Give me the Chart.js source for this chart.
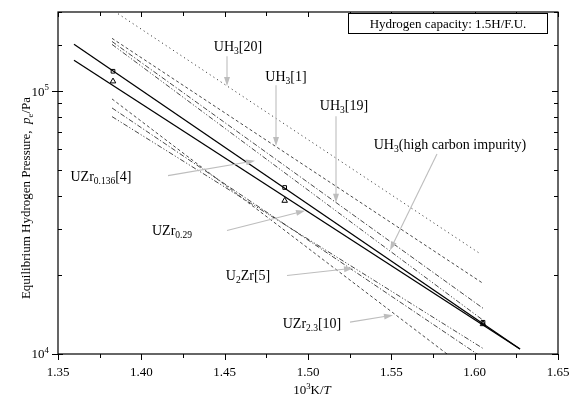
<!DOCTYPE html>
<html><head><meta charset="utf-8">
<script src="https://cdn.jsdelivr.net/npm/chart.js@4"></script>
<style>html,body{margin:0;padding:0;background:#fff}</style>
</head><body>
<canvas id="c" width="571" height="400"></canvas>
<script>
// ---- data (x = 10^3 K / T, y = pressure in Pa) ----
const solidA_x = [1.3596, 1.6272];
const solidA_p = [1.507e5, 1.045e4];
const solidB_x = [1.3596, 1.6272];
const solidB_p = [1.31e5, 1.045e4];
const squares_x = [1.383, 1.486, 1.605];
const squares_p = [1.19e5, 4.30e4, 1.32e4];
const triangles_x = [1.383, 1.486, 1.605];
const triangles_p = [1.09e5, 3.83e4, 1.30e4];

const uh3_20_x = [1.386, 1.6032];
const uh3_20_p = [1.97e5, 2.41e4];
const uh3_1_x = [1.3824, 1.605];
const uh3_1_p = [1.588e5, 1.857e4];
const uh3_19_x = [1.3824, 1.605];
const uh3_19_p = [1.545e5, 1.493e4];
const uh3_hc_x = [1.3824, 1.605];
const uh3_hc_p = [1.506e5, 1.345e4];

const uzr23_x = [1.3824, 1.605];
const uzr23_p = [9.34e4, 7.87e3];
const u2zr_x = [1.3824, 1.605];
const u2zr_p = [8.63e4, 9.66e3];
const uzr0136_x = [1.3824, 1.605];
const uzr0136_p = [8.0e4, 1.05e4];

const xTicks = [1.35, 1.40, 1.45, 1.50, 1.55, 1.60, 1.65];
const yTickLabels = [[1e4, '4'], [1e5, '5']];

// annotations: label parts, label centre, arrow start, arrow end (data units)
const annotations = [
  {parts:[['UH'],['3','sub'],['[20]']], at:[1.458,1.468e5], from:[1.4514,1.357e5], to:[1.4514,1.045e5]},
  {parts:[['UH'],['3','sub'],['[1]']], at:[1.4868,1.129e5], from:[1.4808,1.054e5], to:[1.4808,6.19e4]},
  {parts:[['UH'],['3','sub'],['[19]']], at:[1.5216,8.77e4], from:[1.5168,8.03e4], to:[1.5168,3.765e4]},
  {parts:[['UH'],['3','sub'],['(high carbon impurity)']], at:[1.5852,6.24e4], from:[1.5774,5.77e4], to:[1.5492,2.48e4]},
  {parts:[['UZr'],['0.136','sub'],['[4]']], at:[1.3758,4.72e4], from:[1.416,4.77e4], to:[1.4682,5.43e4]},
  {parts:[['UZr'],['0.29','sub']], at:[1.4184,2.93e4], from:[1.4514,2.95e4], to:[1.4982,3.51e4]},
  {parts:[['U'],['2','sub'],['Zr[5]']], at:[1.464,1.975e4], from:[1.4874,1.99e4], to:[1.527,2.12e4]},
  {parts:[['UZr'],['2.3','sub'],['[10]']], at:[1.5024,1.299e4], from:[1.5252,1.322e4], to:[1.551,1.405e4]}
];

const pts = (xs, ps) => xs.map((x, i) => ({x, y: ps[i]}));
const lineDs = (label, xs, ps, dash, w, col) => ({
  label, data: pts(xs, ps), showLine: true, borderColor: col || '#333',
  borderWidth: w || 0.9, borderDash: dash, pointRadius: 0, fill: false
});

const SERIF = '"Liberation Serif", "DejaVu Serif", serif';

function richWidth(ctx, parts, size) {
  let w = 0;
  for (const p of parts) {
    const s = p[1] === 'sub' || p[1] === 'sup' ? size * 0.68 : size;
    ctx.font = (p[1] === 'it' ? 'italic ' : '') + s + 'px ' + SERIF;
    w += ctx.measureText(p[0]).width;
  }
  return w;
}
function drawRich(ctx, parts, x, y, size, align, color) {
  const w = richWidth(ctx, parts, size);
  let cx = align === 'center' ? x - w / 2 : (align === 'right' ? x - w : x);
  ctx.fillStyle = color || '#000';
  ctx.textBaseline = 'middle';
  ctx.textAlign = 'left';
  for (const p of parts) {
    const small = p[1] === 'sub' || p[1] === 'sup';
    const s = small ? size * 0.68 : size;
    ctx.font = (p[1] === 'it' ? 'italic ' : '') + s + 'px ' + SERIF;
    const dy = p[1] === 'sub' ? size * 0.3 : (p[1] === 'sup' ? -size * 0.35 : 0);
    ctx.fillText(p[0], cx, y + dy);
    cx += ctx.measureText(p[0]).width;
  }
}

const framePlugin = {
  id: 'frame',
  afterDatasetsDraw(chart) {
    const {ctx, chartArea: a, scales: {x, y}} = chart;
    ctx.save();
    // annotations (grey arrows + labels)
    for (const an of annotations) {
      const x1 = x.getPixelForValue(an.from[0]), y1 = y.getPixelForValue(an.from[1]);
      const x2 = x.getPixelForValue(an.to[0]), y2 = y.getPixelForValue(an.to[1]);
      const ang = Math.atan2(y2 - y1, x2 - x1);
      const hl = 9, hw = 3;
      ctx.strokeStyle = '#bdbdbd'; ctx.fillStyle = '#bdbdbd'; ctx.lineWidth = 1.1;
      ctx.beginPath();
      ctx.moveTo(x1, y1);
      ctx.lineTo(x2 - Math.cos(ang) * hl * 0.8, y2 - Math.sin(ang) * hl * 0.8);
      ctx.stroke();
      ctx.beginPath();
      ctx.moveTo(x2, y2);
      ctx.lineTo(x2 - Math.cos(ang) * hl - Math.sin(ang) * hw, y2 - Math.sin(ang) * hl + Math.cos(ang) * hw);
      ctx.lineTo(x2 - Math.cos(ang) * hl + Math.sin(ang) * hw, y2 - Math.sin(ang) * hl - Math.cos(ang) * hw);
      ctx.closePath(); ctx.fill();
      drawRich(ctx, an.parts, x.getPixelForValue(an.at[0]), y.getPixelForValue(an.at[1]), 14, 'center', '#000');
    }
    // frame
    ctx.strokeStyle = '#000'; ctx.lineWidth = 1.2;
    ctx.strokeRect(a.left, a.top, a.right - a.left, a.bottom - a.top);
    // x ticks
    ctx.lineWidth = 1;
    for (let i = 0; i <= 12; i++) {
      const v = 1.35 + i * 0.025;
      const px = Math.round(x.getPixelForValue(v)) + 0.5;
      const major = i % 2 === 0;
      ctx.beginPath();
      ctx.moveTo(px, a.bottom); ctx.lineTo(px, a.bottom + (major ? 6 : 4));
      ctx.moveTo(px, a.top); ctx.lineTo(px, a.top + (major ? 5 : 4));
      ctx.stroke();
    }
    ctx.fillStyle = '#000'; ctx.font = '13px ' + SERIF; ctx.textAlign = 'center'; ctx.textBaseline = 'middle';
    for (const v of xTicks) ctx.fillText(v.toFixed(2), x.getPixelForValue(v), a.bottom + 19);
    // y ticks
    for (const t of y.ticks) {
      const v = t.value;
      const py = Math.round(y.getPixelForValue(v)) + 0.5;
      const m = Math.log10(v);
      const major = Math.abs(m - Math.round(m)) < 1e-9;
      ctx.beginPath();
      if (major) { ctx.moveTo(a.left - 6, py); ctx.lineTo(a.left + 5, py); ctx.moveTo(a.right - 6, py); ctx.lineTo(a.right, py); }
      else { ctx.moveTo(a.left, py); ctx.lineTo(a.left + 4, py); ctx.moveTo(a.right - 4, py); ctx.lineTo(a.right, py); }
      ctx.stroke();
    }
    for (const [v, e] of yTickLabels) {
      drawRich(ctx, [['10'], [e, 'sup']], a.left - 9, y.getPixelForValue(v) + 1, 13, 'right', '#000');
    }
    // axis titles
    drawRich(ctx, [['10'], ['3', 'sup'], ['K/'], ['T', 'it']], (a.left + a.right) / 2 + 4, a.bottom + 37, 13, 'center', '#000');
    ctx.save();
    ctx.translate(27, 198);
    ctx.rotate(-Math.PI / 2);
    drawRich(ctx, [['Equilibrium Hydrogen Pressure,  '], ['p', 'it'], ['e', 'sub'], ['/Pa']], 0, 0, 13, 'center', '#000');
    ctx.restore();
    // info box
    ctx.font = '13px ' + SERIF;
    ctx.lineWidth = 1; ctx.strokeStyle = '#000'; ctx.fillStyle = '#fff';
    const bx = 348.5, by = 13.5, bw = 199, bh = 20;
    ctx.fillRect(bx, by, bw, bh); ctx.strokeRect(bx, by, bw, bh);
    ctx.fillStyle = '#000'; ctx.textAlign = 'center'; ctx.textBaseline = 'middle';
    ctx.fillText('Hydrogen capacity: 1.5H/F.U.', bx + bw / 2, by + bh / 2 + 1);
    ctx.restore();
  }
};

new Chart(document.getElementById('c'), {
  type: 'scatter',
  data: {
    datasets: [
      lineDs('A', solidA_x, solidA_p, [], 1.3, '#000'),
      lineDs('B', solidB_x, solidB_p, [], 1.3, '#000'),
      lineDs('UH3[20]', uh3_20_x, uh3_20_p, [1.2, 3.2]),
      lineDs('UH3[1]', uh3_1_x, uh3_1_p, [3, 2.5]),
      lineDs('UH3[19]', uh3_19_x, uh3_19_p, [5, 2, 1.2, 2]),
      lineDs('UH3 hc', uh3_hc_x, uh3_hc_p, [5, 2, 1.2, 2, 1.2, 2]),
      lineDs('UZr2.3', uzr23_x, uzr23_p, [3, 2.5]),
      lineDs('U2Zr', u2zr_x, u2zr_p, [5, 2, 1.2, 2]),
      lineDs('UZr0.136', uzr0136_x, uzr0136_p, [5, 2, 1.2, 2, 1.2, 2]),
      {label: 'sq', data: pts(squares_x, squares_p), pointStyle: 'rect', pointRadius: 2.6,
       borderColor: '#000', borderWidth: 1, backgroundColor: 'rgba(0,0,0,0)', showLine: false},
      {label: 'tri', data: pts(triangles_x, triangles_p), pointStyle: 'triangle', pointRadius: 3.2,
       borderColor: '#000', borderWidth: 1, backgroundColor: 'rgba(0,0,0,0)', showLine: false}
    ]
  },
  options: {
    responsive: false, animation: false, devicePixelRatio: 1,
    layout: {padding: {top: 12, right: 13, left: 0, bottom: 0}},
    plugins: {legend: {display: false}, tooltip: {enabled: false}},
    scales: {
      x: {type: 'linear', min: 1.35, max: 1.65,
          ticks: {display: false}, grid: {display: false}, border: {display: false},
          afterFit: s => { s.height = 46; }},
      y: {type: 'logarithmic', min: 1e4, max: 2e5,
          ticks: {display: false}, grid: {display: false}, border: {display: false},
          afterFit: s => { s.width = 58; }}
    }
  },
  plugins: [framePlugin]
});
</script>
</body></html>
